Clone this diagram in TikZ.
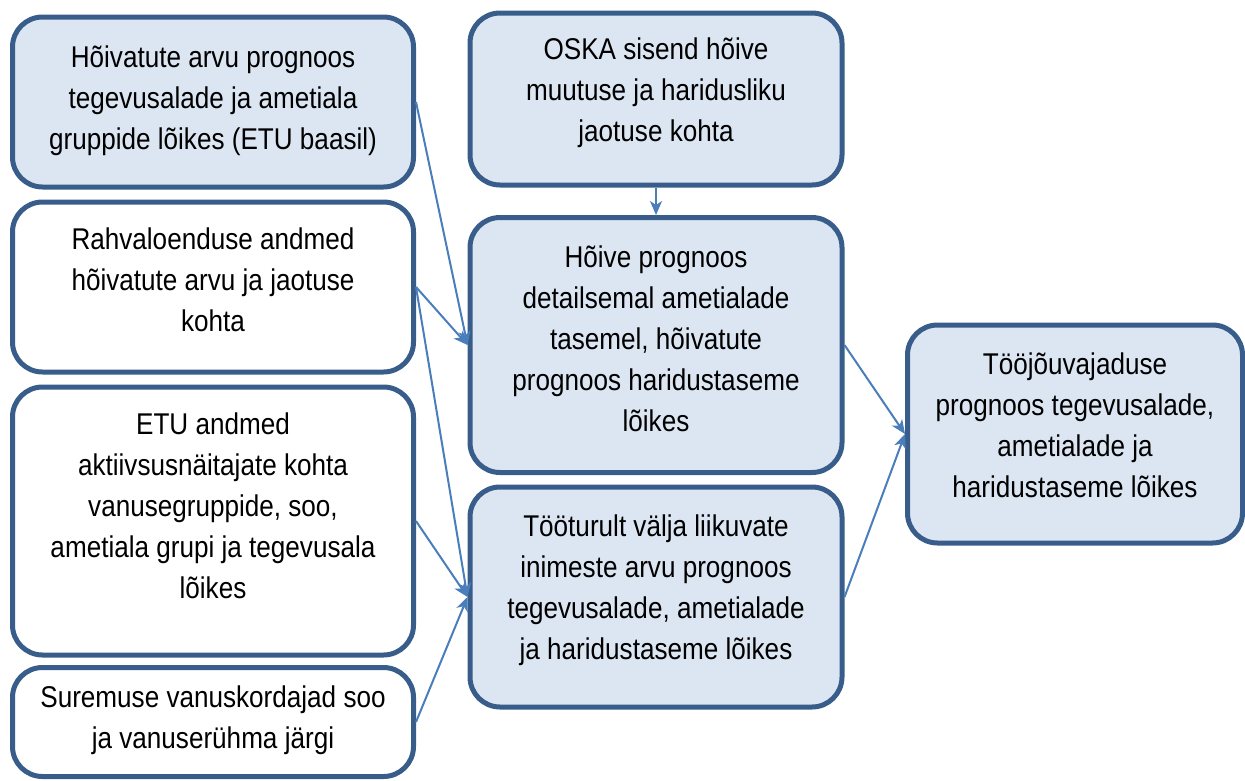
\documentclass[tikz,border=0pt]{standalone}
\usepackage{fontspec}
\setmainfont[FakeStretch=0.87]{Liberation Sans}
\usetikzlibrary{arrows.meta}
\definecolor{boxfill}{HTML}{DCE6F2}
\definecolor{boxline}{HTML}{385D8A}
\definecolor{arrowline}{HTML}{4A7EBB}

\begin{document}
\begin{tikzpicture}[x=1pt,y=-1pt,
    box_node/.style={draw=boxline,line width=5pt,rounded corners=30pt,align=center,
      font=\fontsize{30}{41}\selectfont,inner sep=0pt,text depth=20pt},
    blue_node/.style={box_node,fill=boxfill},
    white_node/.style={box_node,fill=white},
    link/.style={draw=arrowline,line width=2pt,-{Stealth[length=14pt,width=12pt,inset=4pt]}}]
    \useasboundingbox (0,0) rectangle (1245,780);

    \node[blue_node,minimum width=401pt,minimum height=170pt,text depth=9pt] (1) at (213,102)
      {Hõivatute arvu prognoos\\tegevusalade ja ametiala\\gruppide lõikes (ETU baasil)};
    \node[white_node,minimum width=401pt,minimum height=170pt,text depth=14pt] (2) at (213,287)
      {Rahvaloenduse andmed\\hõivatute arvu ja jaotuse\\kohta};
    \node[white_node,minimum width=401pt,minimum height=268pt,text depth=30pt] (3) at (213,521)
      {ETU andmed\\aktiivsusnäitajate kohta\\vanusegruppide, soo,\\ametiala grupi ja tegevusala\\lõikes};
    \node[white_node,minimum width=401pt,minimum height=109pt,text depth=10pt] (4) at (213,722)
      {Suremuse vanuskordajad soo\\ja vanuserühma järgi};
    \node[blue_node,minimum width=372pt,minimum height=172pt,text depth=18pt] (5) at (656,99)
      {OSKA sisend hõive\\muutuse ja haridusliku\\jaotuse kohta};
    \node[blue_node,minimum width=372pt,minimum height=255pt,text depth=13pt] (6) at (656,345)
      {Hõive prognoos\\detailsemal ametialade\\tasemel, hõivatute\\prognoos haridustaseme\\lõikes};
    \node[blue_node,minimum width=372pt,minimum height=220pt] (7) at (656,597)
      {Tööturult välja liikuvate\\inimeste arvu prognoos\\tegevusalade, ametialade\\ja haridustaseme lõikes};
    \node[blue_node,minimum width=335pt,minimum height=218pt,text depth=17pt] (8) at (1075,434)
      {Tööjõuvajaduse\\prognoos tegevusalade,\\ametialade ja\\haridustaseme lõikes};

    \draw[link] (1.east) -- (6.west);
    \draw[link] (2.east) -- (6.west);
    \draw[link] (2.east) -- (7.west);
    \draw[link] (3.east) -- (7.west);
    \draw[link] (4.east) -- (7.west);
    \draw[link] (5.south) -- (6.north);
    \draw[link] (6.east) -- (8.west);
    \draw[link] (7.east) -- (8.west);
\end{tikzpicture}
\end{document}
